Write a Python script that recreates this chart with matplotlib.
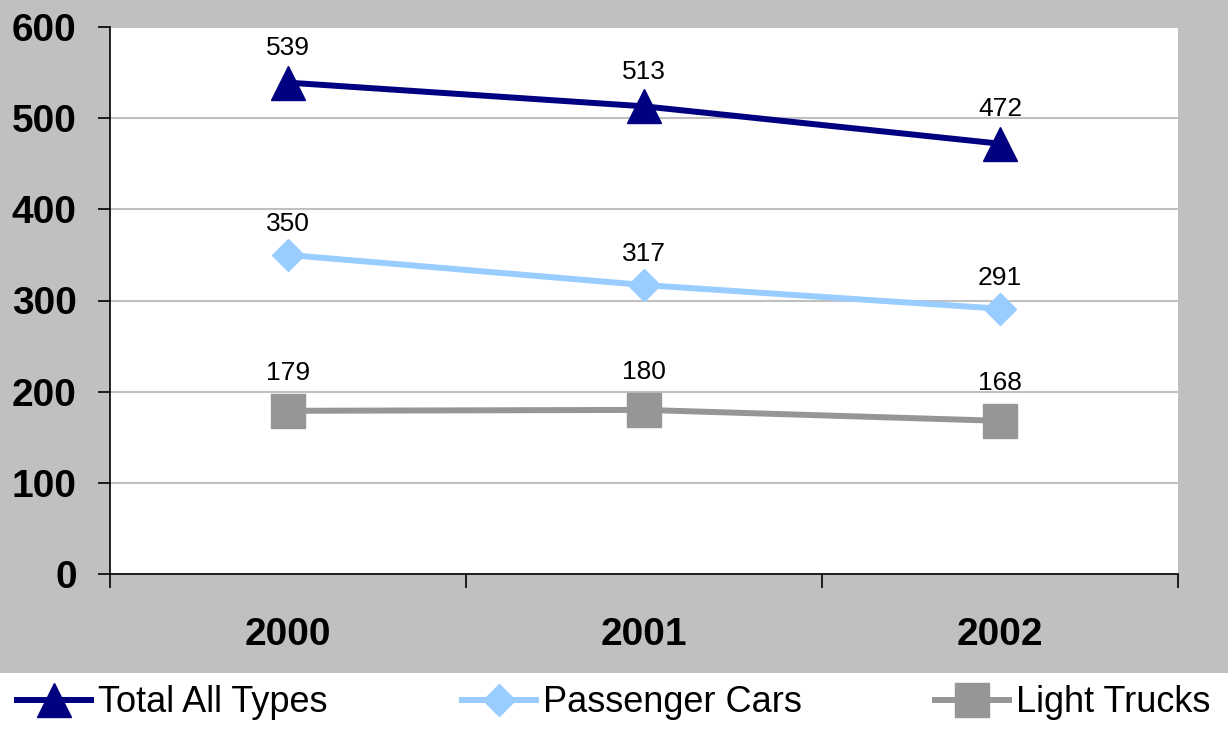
import matplotlib.pyplot as plt
from matplotlib.patches import Rectangle

# Datos
anios = ['2000', '2001', '2002']
total_todos = [539, 513, 472]
autos_pasajeros = [350, 317, 291]
camionetas = [179, 180, 168]
etiquetas_y = [0, 100, 200, 300, 400, 500, 600]

plt.rcParams['font.family'] = ['Liberation Sans', 'DejaVu Sans']

fig = plt.figure(figsize=(12.28, 7.32), dpi=100, facecolor='#C0C0C0')
# franja blanca de la leyenda
fig.patches.append(Rectangle((0, 0), 1, 59 / 732, transform=fig.transFigure,
                             facecolor='white', edgecolor='none', zorder=0))

ax = fig.add_axes([110 / 1228, 1 - 574 / 732, 1068 / 1228, 547 / 732])
ax.set_facecolor('white')

x = range(len(anios))
series = [
    (total_todos, 'Total All Types', '#000080', '^', 25, 25),
    (autos_pasajeros, 'Passenger Cars', '#99CCFF', 'D', 16, 22),
    (camionetas, 'Light Trucks', '#969696', 's', 24, 27),
]
for valores, nombre, color, marcador, tam, desp in series:
    ax.plot(x, valores, color=color, lw=4.3, marker=marcador, ms=tam,
            mec=color, label=nombre, zorder=3, clip_on=False)
    for xi, v in zip(x, valores):
        ax.annotate(str(v), (xi, v), xytext=(0, desp), textcoords='offset points',
                    ha='center', va='center', fontsize=19)

ax.set_xlim(-0.5, 2.5)
ax.set_ylim(0, 600)
ax.set_yticks(etiquetas_y)
ax.set_yticklabels([str(v) for v in etiquetas_y], fontsize=28, fontweight='bold')
ax.set_xticks(list(x))
ax.set_xticklabels(anios, fontsize=28, fontweight='bold')
ax.set_xticks([-0.5, 0.5, 1.5, 2.5], minor=True)
ax.tick_params(axis='x', which='major', length=0, pad=31)
ax.tick_params(axis='x', which='minor', length=10, width=1.2, direction='out')
ax.tick_params(axis='y', length=9, width=1.2, direction='out', pad=15)

ax.grid(axis='y', color='#C0C0C0', lw=1.5)
ax.set_axisbelow(True)
for lado in ['top', 'right']:
    ax.spines[lado].set_visible(False)
ax.spines['left'].set_linewidth(1.2)
ax.spines['bottom'].set_linewidth(1.2)

fig.legend(loc='center', bbox_to_anchor=(0.5, 29 / 732), ncol=3, frameon=False,
           fontsize=26, handlelength=2.05, handletextpad=0.2, columnspacing=3.7,
           borderaxespad=0, borderpad=0)

plt.savefig('out.png', dpi=100, facecolor=fig.get_facecolor())
